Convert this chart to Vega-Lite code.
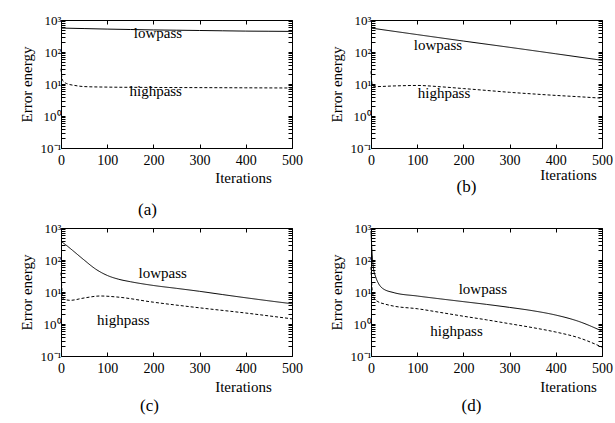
{
  "$schema": "https://vega.github.io/schema/vega-lite/v6.json",
  "padding": {"left": 19, "top": 14, "right": 0, "bottom": 5},
  "background": "white",
  "config": {
    "font": "Liberation Serif",
    "view": {"stroke": null},
    "axis": {"grid": false, "labelFont": "Liberation Serif", "labelFontSize": 14, "labelColor": "black", "titleFont": "Liberation Serif", "titleFontSize": 15, "titleFontWeight": "normal", "titleColor": "black", "domainColor": "black", "tickColor": "black", "labelOverlap": false, "labelBound": false, "labelFlush": false},
    "title": {"font": "Liberation Serif", "fontSize": 17, "fontWeight": "normal", "color": "black"},
    "text": {"font": "Liberation Serif", "fontSize": 15, "color": "black"},
    "concat": {"spacing": 26}
  },
  "datasets": {
    "curves": [
      {"panel": "a", "series": "lowpass", "x": 0, "y": 560}, {"panel": "a", "series": "lowpass", "x": 50, "y": 540}, {"panel": "a", "series": "lowpass", "x": 100, "y": 520}, {"panel": "a", "series": "lowpass", "x": 150, "y": 505}, {"panel": "a", "series": "lowpass", "x": 200, "y": 490}, {"panel": "a", "series": "lowpass", "x": 250, "y": 480}, {"panel": "a", "series": "lowpass", "x": 300, "y": 470}, {"panel": "a", "series": "lowpass", "x": 350, "y": 460}, {"panel": "a", "series": "lowpass", "x": 400, "y": 450}, {"panel": "a", "series": "lowpass", "x": 450, "y": 445}, {"panel": "a", "series": "lowpass", "x": 500, "y": 440},
      {"panel": "a", "series": "highpass", "x": 0, "y": 30}, {"panel": "a", "series": "highpass", "x": 2, "y": 16}, {"panel": "a", "series": "highpass", "x": 5, "y": 12}, {"panel": "a", "series": "highpass", "x": 15, "y": 10}, {"panel": "a", "series": "highpass", "x": 30, "y": 9}, {"panel": "a", "series": "highpass", "x": 50, "y": 8.3}, {"panel": "a", "series": "highpass", "x": 100, "y": 8}, {"panel": "a", "series": "highpass", "x": 200, "y": 7.8}, {"panel": "a", "series": "highpass", "x": 300, "y": 7.7}, {"panel": "a", "series": "highpass", "x": 400, "y": 7.6}, {"panel": "a", "series": "highpass", "x": 500, "y": 7.5},
      {"panel": "b", "series": "lowpass", "x": 0, "y": 560}, {"panel": "b", "series": "lowpass", "x": 100, "y": 350}, {"panel": "b", "series": "lowpass", "x": 200, "y": 220}, {"panel": "b", "series": "lowpass", "x": 300, "y": 140}, {"panel": "b", "series": "lowpass", "x": 400, "y": 88}, {"panel": "b", "series": "lowpass", "x": 500, "y": 55},
      {"panel": "b", "series": "highpass", "x": 0, "y": 25}, {"panel": "b", "series": "highpass", "x": 3, "y": 9}, {"panel": "b", "series": "highpass", "x": 10, "y": 8.3}, {"panel": "b", "series": "highpass", "x": 50, "y": 8.7}, {"panel": "b", "series": "highpass", "x": 100, "y": 9}, {"panel": "b", "series": "highpass", "x": 150, "y": 8.2}, {"panel": "b", "series": "highpass", "x": 200, "y": 7.2}, {"panel": "b", "series": "highpass", "x": 250, "y": 6.3}, {"panel": "b", "series": "highpass", "x": 300, "y": 5.5}, {"panel": "b", "series": "highpass", "x": 350, "y": 4.9}, {"panel": "b", "series": "highpass", "x": 400, "y": 4.4}, {"panel": "b", "series": "highpass", "x": 450, "y": 4}, {"panel": "b", "series": "highpass", "x": 500, "y": 3.6},
      {"panel": "c", "series": "lowpass", "x": 0, "y": 380}, {"panel": "c", "series": "lowpass", "x": 10, "y": 300}, {"panel": "c", "series": "lowpass", "x": 25, "y": 200}, {"panel": "c", "series": "lowpass", "x": 50, "y": 100}, {"panel": "c", "series": "lowpass", "x": 75, "y": 52}, {"panel": "c", "series": "lowpass", "x": 100, "y": 33}, {"panel": "c", "series": "lowpass", "x": 125, "y": 25}, {"panel": "c", "series": "lowpass", "x": 150, "y": 21}, {"panel": "c", "series": "lowpass", "x": 200, "y": 16}, {"panel": "c", "series": "lowpass", "x": 250, "y": 13}, {"panel": "c", "series": "lowpass", "x": 300, "y": 10.5}, {"panel": "c", "series": "lowpass", "x": 350, "y": 8.3}, {"panel": "c", "series": "lowpass", "x": 400, "y": 6.6}, {"panel": "c", "series": "lowpass", "x": 450, "y": 5.3}, {"panel": "c", "series": "lowpass", "x": 500, "y": 4.3},
      {"panel": "c", "series": "highpass", "x": 0, "y": 40}, {"panel": "c", "series": "highpass", "x": 2, "y": 12}, {"panel": "c", "series": "highpass", "x": 5, "y": 6}, {"panel": "c", "series": "highpass", "x": 20, "y": 5.5}, {"panel": "c", "series": "highpass", "x": 50, "y": 6.5}, {"panel": "c", "series": "highpass", "x": 85, "y": 7.5}, {"panel": "c", "series": "highpass", "x": 120, "y": 7}, {"panel": "c", "series": "highpass", "x": 200, "y": 4.8}, {"panel": "c", "series": "highpass", "x": 300, "y": 3.2}, {"panel": "c", "series": "highpass", "x": 400, "y": 2.2}, {"panel": "c", "series": "highpass", "x": 500, "y": 1.45},
      {"panel": "d", "series": "lowpass", "x": 0, "y": 800}, {"panel": "d", "series": "lowpass", "x": 2, "y": 200}, {"panel": "d", "series": "lowpass", "x": 5, "y": 60}, {"panel": "d", "series": "lowpass", "x": 10, "y": 30}, {"panel": "d", "series": "lowpass", "x": 15, "y": 20}, {"panel": "d", "series": "lowpass", "x": 25, "y": 13}, {"panel": "d", "series": "lowpass", "x": 50, "y": 9.5}, {"panel": "d", "series": "lowpass", "x": 100, "y": 7.5}, {"panel": "d", "series": "lowpass", "x": 150, "y": 6.1}, {"panel": "d", "series": "lowpass", "x": 200, "y": 5}, {"panel": "d", "series": "lowpass", "x": 250, "y": 4.1}, {"panel": "d", "series": "lowpass", "x": 300, "y": 3.3}, {"panel": "d", "series": "lowpass", "x": 350, "y": 2.6}, {"panel": "d", "series": "lowpass", "x": 400, "y": 1.9}, {"panel": "d", "series": "lowpass", "x": 450, "y": 1.2}, {"panel": "d", "series": "lowpass", "x": 500, "y": 0.6},
      {"panel": "d", "series": "highpass", "x": 0, "y": 60}, {"panel": "d", "series": "highpass", "x": 3, "y": 10}, {"panel": "d", "series": "highpass", "x": 8, "y": 6}, {"panel": "d", "series": "highpass", "x": 15, "y": 5}, {"panel": "d", "series": "highpass", "x": 30, "y": 4.2}, {"panel": "d", "series": "highpass", "x": 50, "y": 3.6}, {"panel": "d", "series": "highpass", "x": 100, "y": 3}, {"panel": "d", "series": "highpass", "x": 150, "y": 2.3}, {"panel": "d", "series": "highpass", "x": 200, "y": 1.75}, {"panel": "d", "series": "highpass", "x": 250, "y": 1.35}, {"panel": "d", "series": "highpass", "x": 300, "y": 1.02}, {"panel": "d", "series": "highpass", "x": 350, "y": 0.77}, {"panel": "d", "series": "highpass", "x": 400, "y": 0.56}, {"panel": "d", "series": "highpass", "x": 450, "y": 0.37}, {"panel": "d", "series": "highpass", "x": 500, "y": 0.19}
    ],
    "labels": [
      {"panel": "a", "label": "lowpass", "x": 210, "y": 400}, {"panel": "a", "label": "highpass", "x": 205, "y": 6.2},
      {"panel": "b", "label": "lowpass", "x": 145, "y": 167}, {"panel": "b", "label": "highpass", "x": 158, "y": 5.1},
      {"panel": "c", "label": "lowpass", "x": 220, "y": 40}, {"panel": "c", "label": "highpass", "x": 135, "y": 1.35},
      {"panel": "d", "label": "lowpass", "x": 242, "y": 12}, {"panel": "d", "label": "highpass", "x": 185, "y": 0.6}
    ]
  },
  "vconcat": [
    {"hconcat": [
      {"width": 231, "height": 128,
       "title": {"text": "(a)", "orient": "bottom", "offset": 17, "frame": "group", "anchor": "middle", "dx": -29},
       "layer": [
        {"data": {"name": "curves"}, "transform": [{"filter": "datum.panel == 'a'"}],
         "mark": {"type": "line", "color": "black", "strokeWidth": 1, "interpolate": "monotone"},
         "encoding": {
          "x": {"field": "x", "type": "quantitative", "scale": {"domain": [0, 500], "nice": false}, "axis": {"title": "Iterations", "values": [0, 100, 200, 300, 400, 500], "tickSize": -4, "labelPadding": 9, "titleX": 182, "titleY": 29, "titleAlign": "center", "titleBaseline": "middle"}},
          "y": {"field": "y", "type": "quantitative", "scale": {"type": "log", "domain": [0.1, 1000], "nice": false}, "axis": {"title": "Error energy", "titlePadding": 6, "tickSize": -4, "labelPadding": 4, "labelFontSize": 13, "values": [0.1,0.2,0.3,0.4,0.5,0.6,0.7,0.8,0.9,1,2,3,4,5,6,7,8,9,10,20,30,40,50,60,70,80,90,100,200,300,400,500,600,700,800,900,1000], "labelExpr": "datum.value == 1000 ? '10³' : datum.value == 100 ? '10²' : datum.value == 10 ? '10¹' : datum.value == 1 ? '10⁰' : datum.value == 0.1 ? '10⁻¹' : ''"}},
          "strokeDash": {"field": "series", "type": "nominal", "scale": {"domain": ["lowpass", "highpass"], "range": [[1, 0], [3, 2]]}, "legend": null}
         }},
        {"data": {"name": "labels"}, "transform": [{"filter": "datum.panel == 'a'"}],
         "mark": {"type": "text", "baseline": "middle", "align": "center", "font": "Liberation Serif"},
         "encoding": {
          "x": {"field": "x", "type": "quantitative", "scale": {"domain": [0, 500], "nice": false}, "axis": {"orient": "top", "title": null, "labels": false, "values": [0, 100, 200, 300, 400, 500], "tickSize": -4}},
          "y": {"field": "y", "type": "quantitative", "scale": {"type": "log", "domain": [0.1, 1000], "nice": false}, "axis": {"orient": "right", "title": null, "labels": false, "tickSize": -4, "values": [0.1,0.2,0.3,0.4,0.5,0.6,0.7,0.8,0.9,1,2,3,4,5,6,7,8,9,10,20,30,40,50,60,70,80,90,100,200,300,400,500,600,700,800,900,1000]}},
          "text": {"field": "label"}
         }}
       ],
       "resolve": {"scale": {"x": "independent", "y": "independent"}}
      },
      {"width": 231, "height": 128,
       "title": {"text": "(b)", "orient": "bottom", "offset": -3, "frame": "group", "anchor": "middle", "dx": -20},
       "layer": [
        {"data": {"name": "curves"}, "transform": [{"filter": "datum.panel == 'b'"}],
         "mark": {"type": "line", "color": "black", "strokeWidth": 1, "interpolate": "monotone"},
         "encoding": {
          "x": {"field": "x", "type": "quantitative", "scale": {"domain": [0, 500], "nice": false}, "axis": {"title": "Iterations", "values": [0, 100, 200, 300, 400, 500], "tickSize": -4, "labelPadding": 9, "titleX": 197, "titleY": 26, "titleAlign": "center", "titleBaseline": "middle"}},
          "y": {"field": "y", "type": "quantitative", "scale": {"type": "log", "domain": [0.1, 1000], "nice": false}, "axis": {"title": "Error energy", "titlePadding": 6, "tickSize": -4, "labelPadding": 4, "labelFontSize": 13, "values": [0.1,0.2,0.3,0.4,0.5,0.6,0.7,0.8,0.9,1,2,3,4,5,6,7,8,9,10,20,30,40,50,60,70,80,90,100,200,300,400,500,600,700,800,900,1000], "labelExpr": "datum.value == 1000 ? '10³' : datum.value == 100 ? '10²' : datum.value == 10 ? '10¹' : datum.value == 1 ? '10⁰' : datum.value == 0.1 ? '10⁻¹' : ''"}},
          "strokeDash": {"field": "series", "type": "nominal", "scale": {"domain": ["lowpass", "highpass"], "range": [[1, 0], [3, 2]]}, "legend": null}
         }},
        {"data": {"name": "labels"}, "transform": [{"filter": "datum.panel == 'b'"}],
         "mark": {"type": "text", "baseline": "middle", "align": "center", "font": "Liberation Serif"},
         "encoding": {
          "x": {"field": "x", "type": "quantitative", "scale": {"domain": [0, 500], "nice": false}, "axis": {"orient": "top", "title": null, "labels": false, "values": [0, 100, 200, 300, 400, 500], "tickSize": -4}},
          "y": {"field": "y", "type": "quantitative", "scale": {"type": "log", "domain": [0.1, 1000], "nice": false}, "axis": {"orient": "right", "title": null, "labels": false, "tickSize": -4, "values": [0.1,0.2,0.3,0.4,0.5,0.6,0.7,0.8,0.9,1,2,3,4,5,6,7,8,9,10,20,30,40,50,60,70,80,90,100,200,300,400,500,600,700,800,900,1000]}},
          "text": {"field": "label"}
         }}
       ],
       "resolve": {"scale": {"x": "independent", "y": "independent"}}
      }
    ]},
    {"hconcat": [
      {"width": 231, "height": 128,
       "title": {"text": "(c)", "orient": "bottom", "offset": 4, "frame": "group", "anchor": "middle", "dx": -27},
       "layer": [
        {"data": {"name": "curves"}, "transform": [{"filter": "datum.panel == 'c'"}],
         "mark": {"type": "line", "color": "black", "strokeWidth": 1, "interpolate": "monotone"},
         "encoding": {
          "x": {"field": "x", "type": "quantitative", "scale": {"domain": [0, 500], "nice": false}, "axis": {"title": "Iterations", "values": [0, 100, 200, 300, 400, 500], "tickSize": -4, "labelPadding": 9, "titleX": 182, "titleY": 30, "titleAlign": "center", "titleBaseline": "middle"}},
          "y": {"field": "y", "type": "quantitative", "scale": {"type": "log", "domain": [0.1, 1000], "nice": false}, "axis": {"title": "Error energy", "titlePadding": 6, "tickSize": -4, "labelPadding": 4, "labelFontSize": 13, "values": [0.1,0.2,0.3,0.4,0.5,0.6,0.7,0.8,0.9,1,2,3,4,5,6,7,8,9,10,20,30,40,50,60,70,80,90,100,200,300,400,500,600,700,800,900,1000], "labelExpr": "datum.value == 1000 ? '10³' : datum.value == 100 ? '10²' : datum.value == 10 ? '10¹' : datum.value == 1 ? '10⁰' : datum.value == 0.1 ? '10⁻¹' : ''"}},
          "strokeDash": {"field": "series", "type": "nominal", "scale": {"domain": ["lowpass", "highpass"], "range": [[1, 0], [3, 2]]}, "legend": null}
         }},
        {"data": {"name": "labels"}, "transform": [{"filter": "datum.panel == 'c'"}],
         "mark": {"type": "text", "baseline": "middle", "align": "center", "font": "Liberation Serif"},
         "encoding": {
          "x": {"field": "x", "type": "quantitative", "scale": {"domain": [0, 500], "nice": false}, "axis": {"orient": "top", "title": null, "labels": false, "values": [0, 100, 200, 300, 400, 500], "tickSize": -4}},
          "y": {"field": "y", "type": "quantitative", "scale": {"type": "log", "domain": [0.1, 1000], "nice": false}, "axis": {"orient": "right", "title": null, "labels": false, "tickSize": -4, "values": [0.1,0.2,0.3,0.4,0.5,0.6,0.7,0.8,0.9,1,2,3,4,5,6,7,8,9,10,20,30,40,50,60,70,80,90,100,200,300,400,500,600,700,800,900,1000]}},
          "text": {"field": "label"}
         }}
       ],
       "resolve": {"scale": {"x": "independent", "y": "independent"}}
      },
      {"width": 231, "height": 128,
       "title": {"text": "(d)", "orient": "bottom", "offset": 4, "frame": "group", "anchor": "middle", "dx": -15},
       "layer": [
        {"data": {"name": "curves"}, "transform": [{"filter": "datum.panel == 'd'"}],
         "mark": {"type": "line", "color": "black", "strokeWidth": 1, "interpolate": "monotone"},
         "encoding": {
          "x": {"field": "x", "type": "quantitative", "scale": {"domain": [0, 500], "nice": false}, "axis": {"title": "Iterations", "values": [0, 100, 200, 300, 400, 500], "tickSize": -4, "labelPadding": 9, "titleX": 197, "titleY": 30, "titleAlign": "center", "titleBaseline": "middle"}},
          "y": {"field": "y", "type": "quantitative", "scale": {"type": "log", "domain": [0.1, 1000], "nice": false}, "axis": {"title": "Error energy", "titlePadding": 6, "tickSize": -4, "labelPadding": 4, "labelFontSize": 13, "values": [0.1,0.2,0.3,0.4,0.5,0.6,0.7,0.8,0.9,1,2,3,4,5,6,7,8,9,10,20,30,40,50,60,70,80,90,100,200,300,400,500,600,700,800,900,1000], "labelExpr": "datum.value == 1000 ? '10³' : datum.value == 100 ? '10²' : datum.value == 10 ? '10¹' : datum.value == 1 ? '10⁰' : datum.value == 0.1 ? '10⁻¹' : ''"}},
          "strokeDash": {"field": "series", "type": "nominal", "scale": {"domain": ["lowpass", "highpass"], "range": [[1, 0], [3, 2]]}, "legend": null}
         }},
        {"data": {"name": "labels"}, "transform": [{"filter": "datum.panel == 'd'"}],
         "mark": {"type": "text", "baseline": "middle", "align": "center", "font": "Liberation Serif"},
         "encoding": {
          "x": {"field": "x", "type": "quantitative", "scale": {"domain": [0, 500], "nice": false}, "axis": {"orient": "top", "title": null, "labels": false, "values": [0, 100, 200, 300, 400, 500], "tickSize": -4}},
          "y": {"field": "y", "type": "quantitative", "scale": {"type": "log", "domain": [0.1, 1000], "nice": false}, "axis": {"orient": "right", "title": null, "labels": false, "tickSize": -4, "values": [0.1,0.2,0.3,0.4,0.5,0.6,0.7,0.8,0.9,1,2,3,4,5,6,7,8,9,10,20,30,40,50,60,70,80,90,100,200,300,400,500,600,700,800,900,1000]}},
          "text": {"field": "label"}
         }}
       ],
       "resolve": {"scale": {"x": "independent", "y": "independent"}}
      }
    ]}
  ],
  "spacing": 4
}
